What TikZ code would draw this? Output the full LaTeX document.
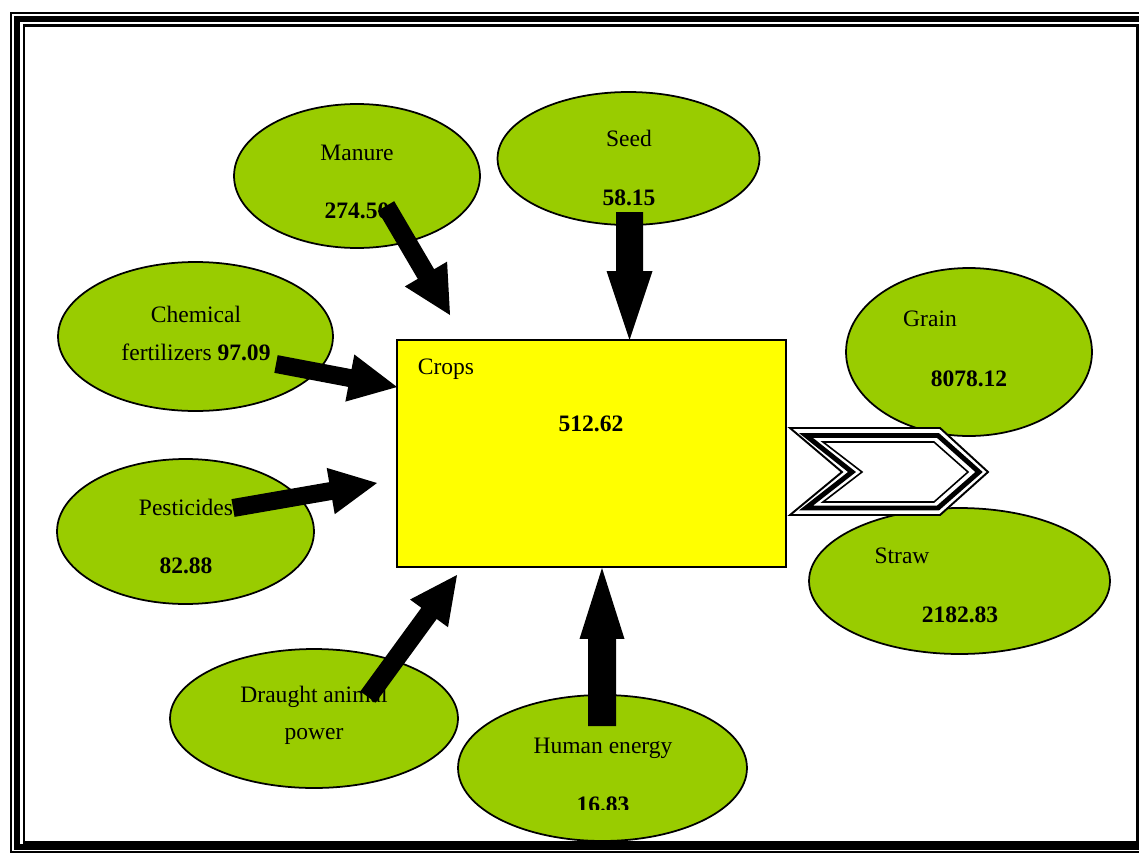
\documentclass[tikz,border=0pt]{standalone}
\usepackage{fontspec}
\setmainfont{Liberation Serif}
\usetikzlibrary{calc,shapes.geometric}
\definecolor{leaf}{HTML}{99CC00}
\definecolor{cropy}{HTML}{FFFF00}
% block arrow: #1 tail, #2 tip, #3 half shaft, #4 half head width, #5 head length
\newcommand\blockarr[5]{%
  \coordinate (#1#2h) at ($(#2)!#5!(#1)$);
  \fill[black] ($(#1)!#3!90:(#2)$) -- ($(#1#2h)!#3!90:(#2)$) -- ($(#1#2h)!#4!90:(#2)$) -- (#2)
    -- ($(#1#2h)!#4!-90:(#2)$) -- ($(#1#2h)!#3!-90:(#2)$) -- ($(#1)!#3!-90:(#2)$) -- cycle;}
\begin{document}
\begin{tikzpicture}[x=0.02cm,y=-0.02cm,
  ell/.style={ellipse, draw=black, line width=1pt, fill=leaf, inner sep=0pt},
  txt/.style={inner sep=0pt, anchor=base, font=\fontsize{13.4}{16}\selectfont}]
\useasboundingbox (0,0) rectangle (1139,852);
\fill[white] (0,0) rectangle (1139,852);
% frame
\draw[line width=1.13pt] (11,13) rectangle (1150,852);
\draw[line width=3.2pt] (17,19) rectangle (1143,847);
\draw[line width=1.3pt] (24,25.5) rectangle (1137.5,842.5);
% ellipses
\node[ell, minimum width=4.92cm, minimum height=2.88cm] (manure) at (357,176) {};
\node[ell, minimum width=5.24cm, minimum height=2.66cm] (seed) at (628.5,158.5) {};
\node[ell, minimum width=5.50cm, minimum height=2.98cm] (chem) at (195.5,336.5) {};
\node[ell, minimum width=5.14cm, minimum height=2.90cm] (pest) at (185.5,531.5) {};
\node[ell, minimum width=5.76cm, minimum height=2.78cm] (draught) at (314,718.5) {};
\node[ell, minimum width=5.78cm, minimum height=2.92cm] (human) at (602.5,768) {};
\node[ell, minimum width=4.92cm, minimum height=3.36cm] (grain) at (969,352) {};
\node[ell, minimum width=6.02cm, minimum height=2.92cm] (straw) at (959.5,581) {};
% crops box
\node[rectangle, draw=black, line width=1pt, fill=cropy, inner sep=0pt,
  minimum width=7.78cm, minimum height=4.54cm] (crops) at (591.5,453.5) {};
% texts
\node[txt] (manureT) at (357,160) {Manure};
\node[txt] (manureV) at (357,218) {\textbf{274.50}};
\node[txt] (seedT) at (629,146) {Seed};
\node[txt] (seedV) at (629,205) {\textbf{58.15}};
\node[txt] (chemT) at (196,322) {Chemical};
\node[txt] (chemV) at (196,360) {fertilizers \textbf{97.09}};
\node[txt] (cropsT) at (446,374) {Crops};
\node[txt] (cropsV) at (591,431) {\textbf{512.62}};
\node[txt] (grainT) at (930,326) {Grain};
\node[txt] (grainV) at (969,386) {\textbf{8078.12}};
\node[txt] (pestT) at (186,515) {Pesticides};
\node[txt] (pestV) at (186,573) {\textbf{82.88}};
\node[txt] (strawT) at (902,563) {Straw};
\node[txt] (strawV) at (960,622) {\textbf{2182.83}};
\node[txt] (draughtT) at (314,702) {Draught animal};
\node[txt] (draughtU) at (314,739) {power};
\node[txt] (humanT) at (603,753) {Human energy};
\begin{scope}
  \clip (0,0) rectangle (1139,809);
  \node[txt] (humanV) at (603,812) {\textbf{16.83}};
\end{scope}
% arrows
\coordinate (manureTail) at (386,206);
\coordinate (manureTip) at (450,315);
\coordinate (seedTail) at (629.5,212);
\coordinate (seedTip) at (629.5,340);
\coordinate (chemTail) at (276,364);
\coordinate (chemTip) at (397,387);
\coordinate (pestTail) at (233,508);
\coordinate (pestTip) at (377,483);
\coordinate (draughtTail) at (368,697);
\coordinate (draughtTip) at (457,575);
\coordinate (humanTail) at (602,726);
\coordinate (humanTip) at (602,568);
\blockarr{manureTail}{manureTip}{0.19cm}{0.49cm}{0.95cm}
\blockarr{seedTail}{seedTip}{0.27cm}{0.46cm}{1.38cm}
\blockarr{chemTail}{chemTip}{0.18cm}{0.48cm}{0.96cm}
\blockarr{pestTail}{pestTip}{0.18cm}{0.47cm}{0.94cm}
\blockarr{draughtTail}{draughtTip}{0.19cm}{0.47cm}{0.95cm}
\blockarr{humanTail}{humanTip}{0.28cm}{0.45cm}{1.42cm}
% output chevron
\filldraw[fill=white, draw=black, line width=1.1pt, line join=miter]
  (790,428) -- (940,428) -- (988,472) -- (940,515) -- (790,515) -- (842,472) -- cycle;
\draw[line width=2.8pt, line join=miter]
  (806,435.5) -- (938,435.5) -- (979,472) -- (938,508) -- (806,508) -- (852,472) -- cycle;
\draw[line width=0.9pt, line join=miter]
  (823,442) -- (934,442) -- (968,472) -- (934,502) -- (823,502) -- (862,472) -- cycle;
\end{tikzpicture}
\end{document}
